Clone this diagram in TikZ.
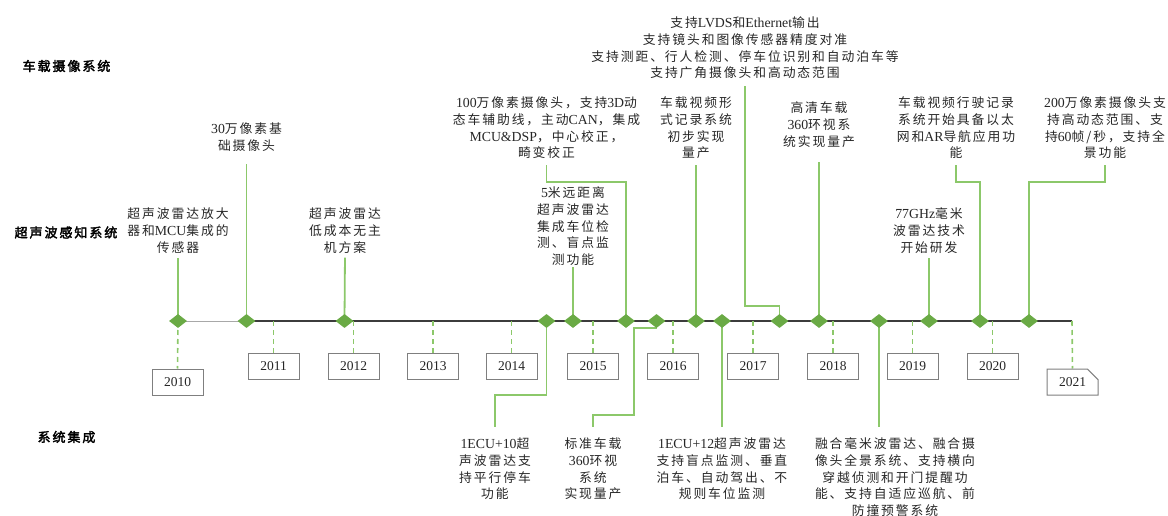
\documentclass[tikz,border=0pt]{standalone}
\usepackage{fontspec}
\setmainfont{Liberation Serif}
\newfontfamily\cjk[LetterSpace=15]{Noto Sans CJK SC}
\newfontfamily\cjkb[FakeBold=2.5,LetterSpace=15]{Noto Sans CJK SC}
\newcommand\en[1]{{\rmfamily\fontsize{13.8}{16.7}\selectfont #1}}
\usetikzlibrary{shapes.geometric,shapes.misc}
\definecolor{gline}{HTML}{8CC86A}
\definecolor{gdia}{HTML}{6AAA45}
\definecolor{tline}{HTML}{3C3C3C}
\definecolor{lline}{HTML}{A8A8A8}
\definecolor{boxc}{HTML}{7F7F7F}
\definecolor{txt}{HTML}{262626}
\pgfdeclarelayer{bg}
\pgfsetlayers{bg,main}
\tikzset{
  conn/.style={draw=gline, line width=1.8pt},
  yconn/.style={draw=gline, line width=1.6pt, dash pattern=on 5pt off 4pt},
  dia/.style={diamond, fill=gdia, inner sep=0pt, minimum width=18pt, minimum height=14pt},
  yearbox/.style={draw=boxc, line width=1pt, minimum width=51pt, minimum height=26pt, inner sep=0pt,
    font=\fontsize{13.5}{14}\selectfont, text=txt, fill=white},
  evt/.style={font=\cjk\fontsize{12.8}{16.7}\selectfont, align=center, inner sep=0pt, outer sep=0pt, text=txt, anchor=north},
  rowlab/.style={font=\cjkb\fontsize{13}{16}\selectfont, text=black},
  tl/.style={draw=tline, line width=1.6pt},
}
\begin{document}
\begin{tikzpicture}[x=1pt,y=-1pt]
\useasboundingbox (0,0) rectangle (1168,516);

% row labels
\node[rowlab] (r1) at (66.5,66) {车载摄像系统};
\node[rowlab] (r2) at (66,232.5) {超声波感知系统};
\node[rowlab] (r3) at (66.5,437) {系统集成};

% diamonds
\node[dia] (d1) at (178,321) {};
\node[dia] (d2) at (246.5,321) {};
\node[dia] (d3) at (344.5,321) {};
\node[dia] (d4) at (546.5,321) {};
\node[dia] (d5) at (573,321) {};
\node[dia] (d6) at (626,321) {};
\node[dia] (d7) at (656.5,321) {};
\node[dia] (d8) at (696,321) {};
\node[dia] (d9) at (722,321) {};
\node[dia] (d10) at (779.5,321) {};
\node[dia] (d11) at (819,321) {};
\node[dia] (d12) at (879,321) {};
\node[dia] (d13) at (929,321) {};
\node[dia] (d14) at (980,321) {};
\node[dia] (d15) at (1029,321) {};
\coordinate (tend) at (1072,321);

% year boxes
\node[yearbox] (y2010) at (177.5,382) {2010};
\node[yearbox] (y2011) at (273.5,366) {2011};
\node[yearbox] (y2012) at (353.5,366) {2012};
\node[yearbox] (y2013) at (433,366) {2013};
\node[yearbox] (y2014) at (511.5,366) {2014};
\node[yearbox] (y2015) at (593,366) {2015};
\node[yearbox] (y2016) at (673,366) {2016};
\node[yearbox] (y2017) at (753,366) {2017};
\node[yearbox] (y2018) at (833,366) {2018};
\node[yearbox] (y2019) at (912.5,366) {2019};
\node[yearbox] (y2020) at (992.5,366) {2020};
\node[yearbox, chamfered rectangle, chamfered rectangle corners=north east,
  chamfered rectangle xsep=6pt, chamfered rectangle ysep=6pt] (y2021) at (1072.5,382) {2021};

% event texts (upper)
\node[evt] (t1) at (178,208) {超声波雷达放大\\器和\en{MCU}集成的\\传感器};
\node[evt] (t2) at (246.5,123) {\en{30}万像素基\\础摄像头};
\node[evt] (t3) at (345,208) {超声波雷达\\低成本无主\\机方案};
\node[evt] (t5) at (573,187) {\en{5}米远距离\\超声波雷达\\集成车位检\\测、盲点监\\测功能};
\node[evt] (t6) at (546.5,97) {\en{100}万像素摄像头，支持\en{3D}动\\态车辅助线，主动\en{CAN}，集成\\\en{MCU\&DSP}，中心校正，\\畸变校正};
\node[evt] (t8) at (696,97) {车载视频形\\式记录系统\\初步实现\\量产};
\node[evt] (t10) at (745,17) {支持\en{LVDS}和\en{Ethernet}输出\\支持镜头和图像传感器精度对准\\支持测距、行人检测、停车位识别和自动泊车等\\支持广角摄像头和高动态范围};
\node[evt] (t11) at (819,102) {高清车载\\\en{360}环视系\\统实现量产};
\node[evt] (t13) at (929,208) {\en{77GHz}毫米\\波雷达技术\\开始研发};
\node[evt] (t14) at (956,97) {车载视频行驶记录\\系统开始具备以太\\网和\en{AR}导航应用功\\能};
\node[evt] (t15) at (1105,97) {\en{200}万像素摄像头支\\持高动态范围、支\\持\en{60}帧/秒，支持全\\景功能};
% event texts (lower)
\node[evt] (t4) at (495,438) {\en{1ECU+10}超\\声波雷达支\\持平行停车\\功能};
\node[evt] (t7) at (593,438) {标准车载\\\en{360}环视\\系统\\实现量产};
\node[evt] (t9) at (722,438) {\en{1ECU+12}超声波雷达\\支持盲点监测、垂直\\泊车、自动驾出、不\\规则车位监测};
\node[evt] (t12) at (895,438) {融合毫米波雷达、融合摄\\像头全景系统、支持横向\\穿越侦测和开门提醒功\\能、支持自适应巡航、前\\防撞预警系统};

% bend points
\coordinate (b4) at (495,395);
\coordinate (b6) at (546.5,182);
\coordinate (b7) at (634,415);
\coordinate (b10) at (745,306);
\coordinate (b14) at (956,182);
\coordinate (b15) at (1105,182);

\begin{pgfonlayer}{bg}
  % timeline
  \draw[draw=lline, line width=1pt] (d1.center) -- (d2.center);
  \draw[tl] (d2.center) -- (tend);
  % year connectors
  \draw[yconn] (d1.center) -- (y2010.north);
  \foreach \y in {2011,2012,2013,2014,2015,2016,2017,2018,2019,2020}
    \draw[yconn] (y\y.north |- tend) -- (y\y.north);
  \draw[yconn] (tend) -- (y2021.north);
  % event connectors
  \draw[conn, shorten >=4.4pt] (d1.center) -- (t1.south);
  \draw[conn, shorten >=12.4pt] (d2.center) -- (t2.south);
  \draw[conn, shorten >=4.4pt] (d3.center) -- (t3.south);
  \draw[conn, shorten >=11.5pt] (d4.center) |- (b4) -- (t4.north);
  \draw[conn, shorten >=1.4pt] (d5.center) -- (t5.south);
  \draw[conn, shorten >=6.4pt] (d6.center) |- (b6) -- (t6.south);
  \draw[conn, shorten >=11.5pt] (d7.south) -| (b7) -| (t7.north);
  \draw[conn, shorten >=6.4pt] (d8.center) -- (t8.south);
  \draw[conn, shorten >=11.5pt] (d9.center) -- (t9.north);
  \draw[conn, shorten >=7.4pt] (d10.center) |- (b10) -- (t10.south);
  \draw[conn, shorten >=14.4pt] (d11.center) -- (t11.south);
  \draw[conn, shorten >=11.5pt] (d12.center) -- (d12.center |- t12.north);
  \draw[conn, shorten >=4.4pt] (d13.center) -- (t13.south);
  \draw[conn, shorten >=6.4pt] (d14.center) |- (b14) -- (t14.south);
  \draw[conn, shorten >=6.4pt] (d15.center) |- (b15) -- (t15.south);
\end{pgfonlayer}
\end{tikzpicture}
\end{document}
